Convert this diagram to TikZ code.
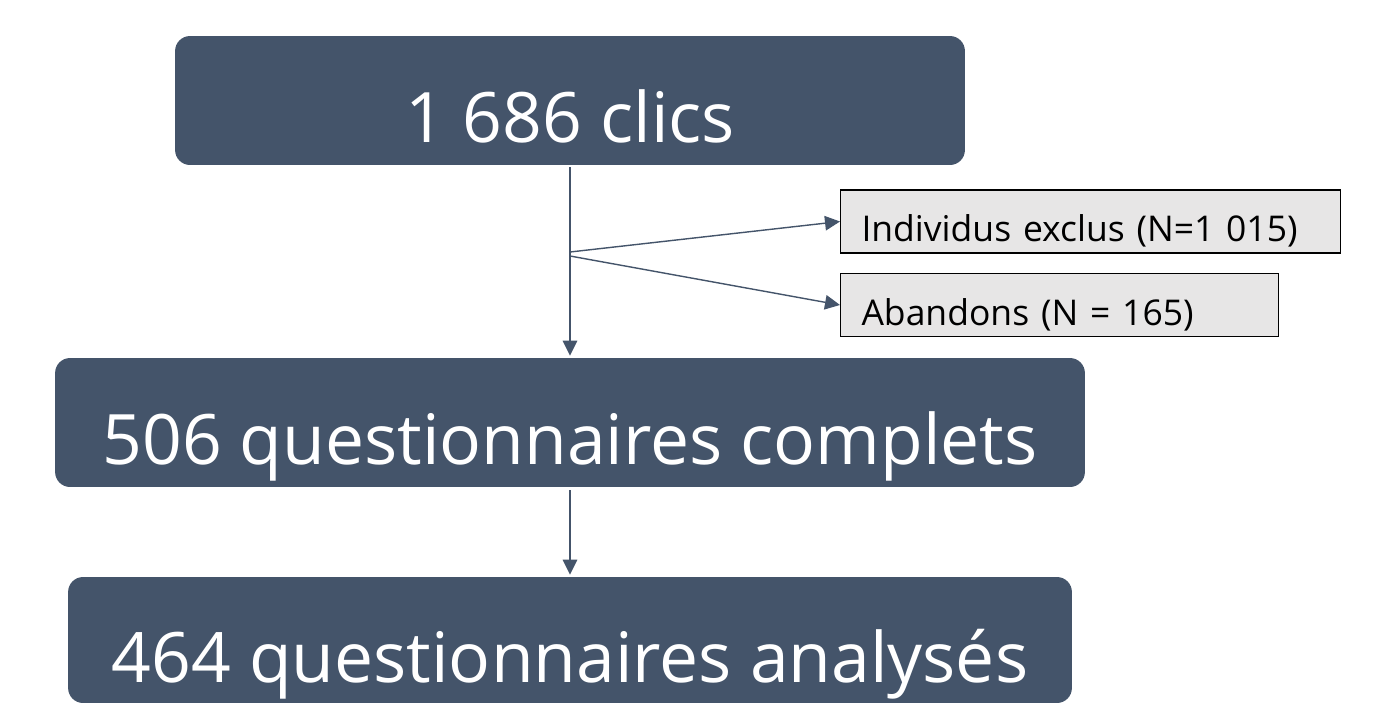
\documentclass[tikz,border=0pt]{standalone}
\usepackage{fontspec}
\setmainfont{Open Sans}
\usepackage{tikz}
\usetikzlibrary{arrows.meta,positioning}

\definecolor{boxblue}{HTML}{44546A}
\definecolor{boxgrey}{HTML}{E7E6E6}

\tikzset{
    bigbox/.style={fill=boxblue, text=white, rounded corners=0.3cm, minimum height=2.58cm,
        text height=1.68cm, text depth=0pt, font=\fontsize{39.6}{40}\selectfont},
    smallbox/.style={draw=black, fill=boxgrey, anchor=west, minimum height=1.26cm, inner xsep=0.42cm,
        text height=0.8cm, text depth=0pt, align=left, line width=0.6pt, font=\fontsize{20.2}{22}\selectfont},
    flow/.style={draw=boxblue, line width=0.8pt, -{Triangle[width=0.29cm,length=0.3cm]}}
}

\begin{document}
\begin{tikzpicture}[x=0.02cm, y=-0.02cm]
    \useasboundingbox (0,0) rectangle (1380,707);

    % main steps
    \node[bigbox, minimum width=15.8cm] (clics) at (570,100.5) {1 686 clics};
    \node[bigbox, minimum width=20.6cm] (complets) at (570,422.5) {506 questionnaires complets};
    \node[bigbox, minimum width=20.08cm, minimum height=2.52cm] (analyses) at (570,640) {464 questionnaires analysés};

    % exclusions on the side
    \node[smallbox, text width=9.16cm] (exclus) at (840,221.5) {Individus exclus (N=1 015)};
    \node[smallbox, text width=7.92cm] (abandons) at (840,305) {Abandons (N = 165)};

    % branch points on the main line
    \coordinate (split1) at (570,252);
    \coordinate (split2) at (570,256);

    \draw[flow, shorten <=0.04cm, shorten >=0.04cm] (clics) -- (complets);
    \draw[flow] (split1) -- (exclus.west);
    \draw[flow] (split2) -- (abandons.west);
    \draw[flow, shorten <=0.06cm, shorten >=0.04cm] (complets) -- (analyses);
\end{tikzpicture}
\end{document}
